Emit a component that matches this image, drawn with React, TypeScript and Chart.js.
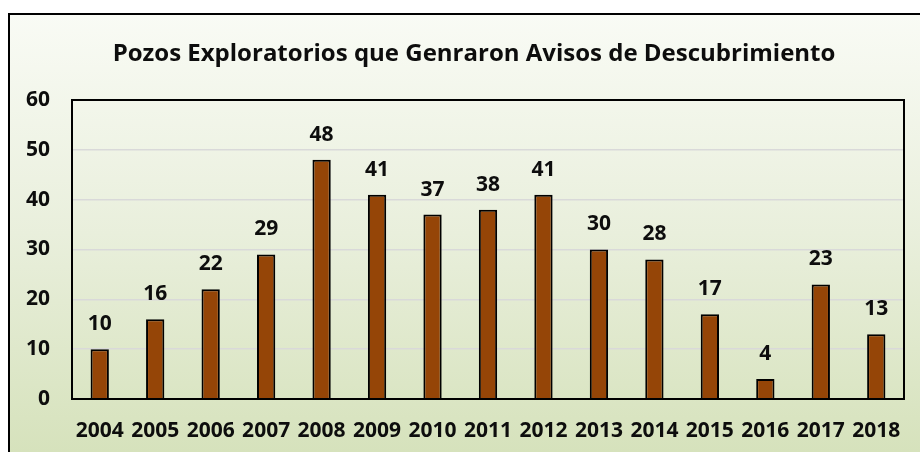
import React, { useEffect, useRef } from "react";
import { Chart, registerables } from "chart.js";

Chart.register(...registerables);

const TITLE = "Pozos Exploratorios que Genraron Avisos de Descubrimiento";
const years = ["2004", "2005", "2006", "2007", "2008", "2009", "2010", "2011", "2012", "2013", "2014", "2015", "2016", "2017", "2018"];
const wells = [10, 16, 22, 29, 48, 41, 37, 38, 41, 30, 28, 17, 4, 23, 13];
const yTicks = [0, 10, 20, 30, 40, 50, 60];

const FONT = "'Open Sans', sans-serif";

const framePlugin = {
  id: "frame",
  beforeDraw(chart: any) {
    const { ctx, width, height } = chart;
    ctx.save();
    ctx.fillStyle = "#ffffff";
    ctx.fillRect(0, 0, width, height);
    const g = ctx.createLinearGradient(0, 14, 0, height);
    g.addColorStop(0, "#f9fbf5");
    g.addColorStop(0.5, "#e9efdc");
    g.addColorStop(1, "#d6e2bc");
    ctx.fillStyle = g;
    ctx.fillRect(9, 14, width, height);
    ctx.strokeStyle = "#000000";
    ctx.lineWidth = 2;
    ctx.strokeRect(9, 14, width + 20, height + 20);
    ctx.fillStyle = "#0d0d0d";
    ctx.font = `bold 24px ${FONT}`;
    ctx.textAlign = "center";
    ctx.textBaseline = "alphabetic";
    ctx.fillText(TITLE, 474, 61);
    ctx.restore();
  },
  afterDatasetsDraw(chart: any) {
    const { ctx, chartArea } = chart;
    ctx.save();
    ctx.strokeStyle = "#000000";
    ctx.lineWidth = 2;
    ctx.strokeRect(chartArea.left, chartArea.top, chartArea.right - chartArea.left, chartArea.bottom - chartArea.top);
    const meta = chart.getDatasetMeta(0);
    ctx.fillStyle = "#0d0d0d";
    ctx.font = `bold 21px ${FONT}`;
    ctx.textAlign = "center";
    ctx.textBaseline = "middle";
    meta.data.forEach((bar: any, i: number) => {
      ctx.fillText(String(wells[i]), bar.x, bar.y - 25);
    });
    ctx.restore();
  },
};

export default function App() {
  const ref = useRef<HTMLCanvasElement>(null);
  useEffect(() => {
    if (!ref.current) return;
    const chart = new Chart(ref.current, {
      type: "bar",
      data: {
        labels: years,
        datasets: [
          {
            data: wells,
            backgroundColor: "#954507",
            borderColor: "#000000",
            borderWidth: 2,
            categoryPercentage: 1,
            barPercentage: 0.33,
          },
        ],
      },
      options: {
        responsive: false,
        animation: false,
        devicePixelRatio: 1,
        layout: { padding: { top: 100, right: 16, bottom: 0, left: 0 } },
        plugins: { legend: { display: false }, title: { display: false }, tooltip: { enabled: false } },
        scales: {
          x: {
            grid: { display: false, drawTicks: false },
            border: { display: false },
            ticks: { color: "#0d0d0d", font: { family: FONT, weight: "bold", size: 21 }, padding: 19, maxRotation: 0, autoSkip: false },
            afterFit(scale: any) {
              scale.height = 53;
            },
          },
          y: {
            min: 0,
            max: 60,
            afterBuildTicks(scale: any) {
              scale.ticks = yTicks.map((v) => ({ value: v }));
            },
            grid: { color: "#d9d9d9", lineWidth: 1.5, drawTicks: false },
            border: { display: false },
            ticks: { color: "#0d0d0d", font: { family: FONT, weight: "bold", size: 21 }, padding: 22 },
            afterFit(scale: any) {
              scale.width = 72;
            },
          },
        },
      },
      plugins: [framePlugin],
    });
    return () => chart.destroy();
  }, []);
  return (
    <div style={{ position: "fixed", left: 0, top: 0, width: 920, height: 452 }}>
      <canvas ref={ref} width={920} height={452} style={{ width: 920, height: 452, display: "block" }} />
    </div>
  );
}
